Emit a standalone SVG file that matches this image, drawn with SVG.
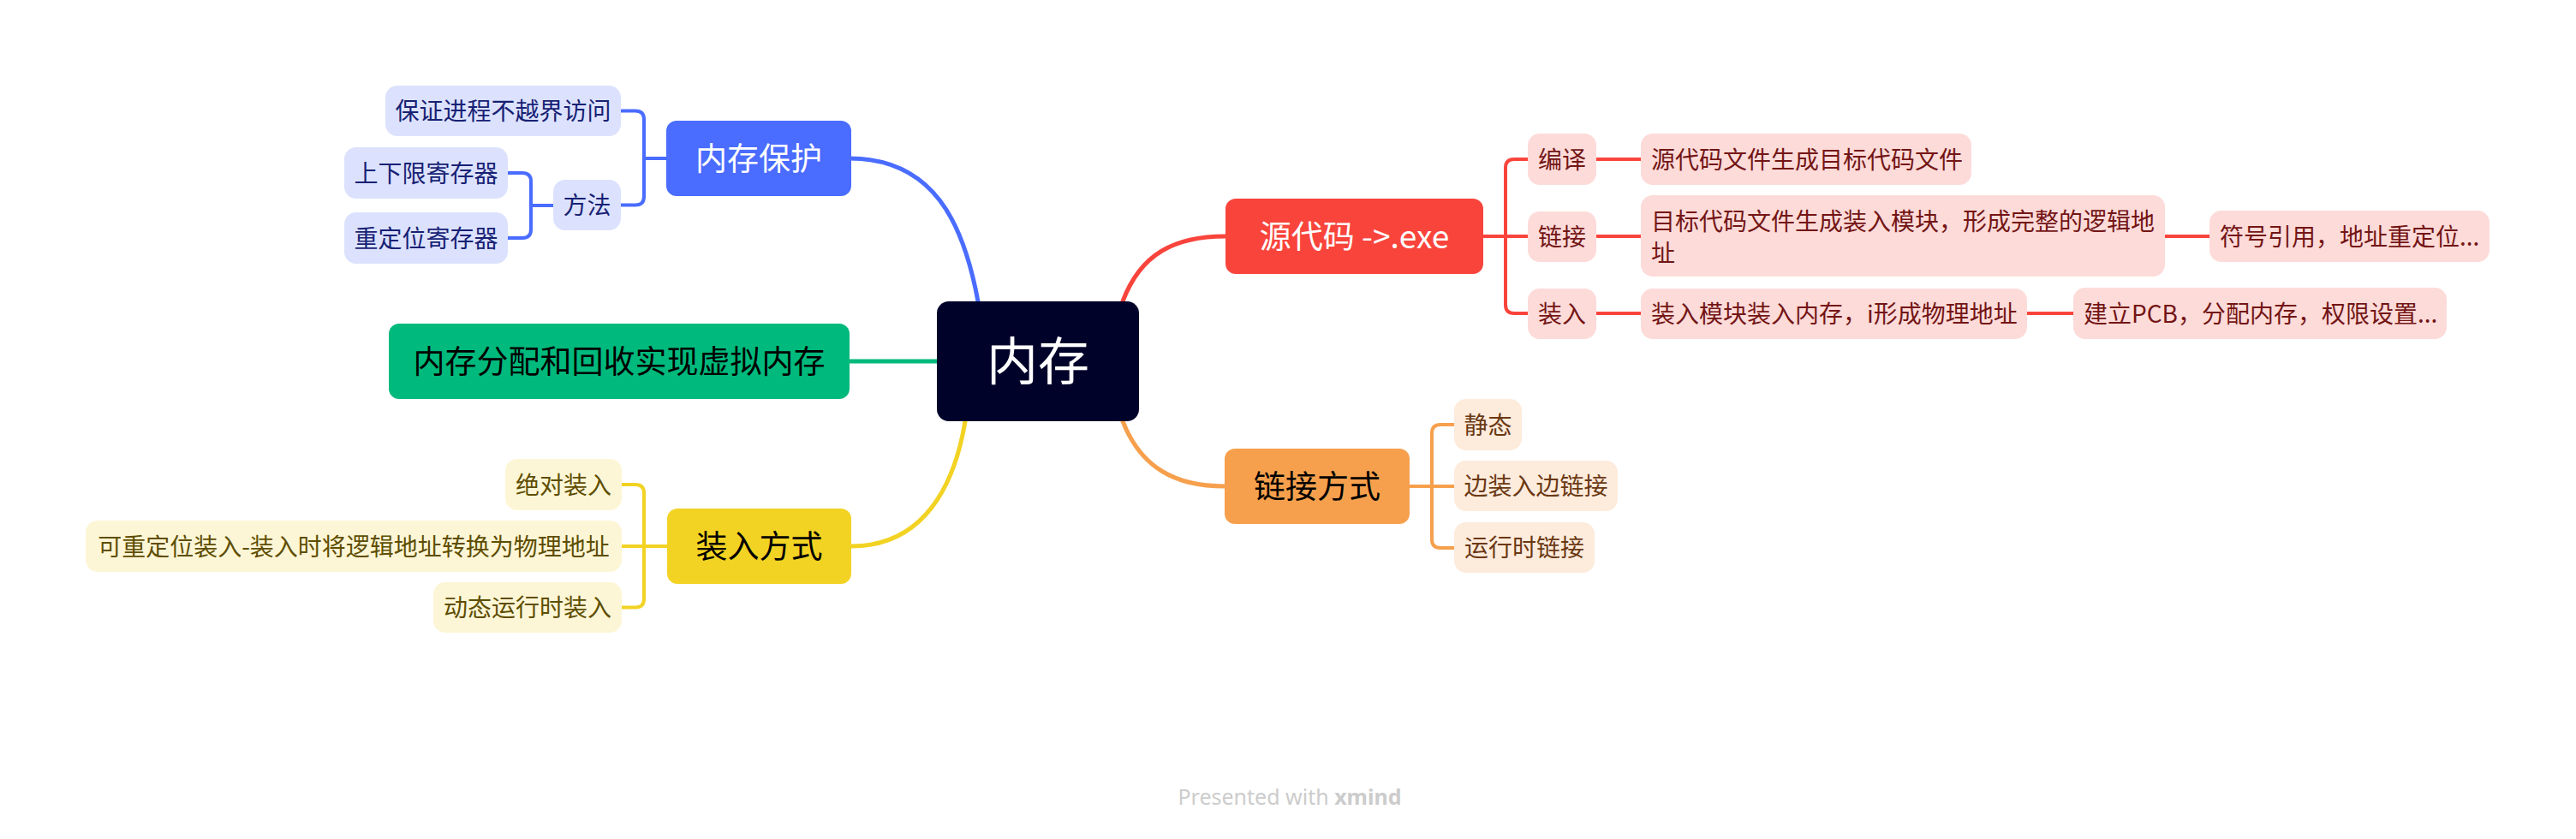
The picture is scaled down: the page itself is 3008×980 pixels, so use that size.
<svg xmlns="http://www.w3.org/2000/svg" width="3008" height="980" viewBox="0 0 3008 980">
<style>
text{font-family:"Noto Sans CJK SC","Noto Sans",sans-serif;}
.sub{font-size:28px;}
.main{font-size:37px;text-anchor:middle;}
.c{text-anchor:middle;}
.bl rect{fill:#dce2fd;} .bl text{fill:#172174;}
.ye rect{fill:#fdf6d6;} .ye text{fill:#5e4d00;}
.rd rect{fill:#fddbd9;} .rd text{fill:#731515;}
.or rect{fill:#fdebdc;} .or text{fill:#6a3812;}
.br{fill:none;stroke-width:4;stroke-linecap:round;}
.cv{fill:none;stroke-width:5;stroke-linecap:round;}
</style>
<rect width="3008" height="980" fill="#ffffff"/>
<g id="connectors">
  <path class="cv" stroke="#4a6cff" d="M992,185 C1090,185 1125,260 1142,352"/>
  <path class="cv" stroke="#00b97c" d="M992,422 H1094"/>
  <path class="cv" stroke="#f2d323" d="M994,638 C1080,638 1115,565 1127,492"/>
  <path class="cv" stroke="#f9443c" d="M1311,352 C1332,296 1372,276 1431,276"/>
  <path class="cv" stroke="#f6a04d" d="M1311,492 C1332,546 1372,568 1430,568"/>
  <path class="br" stroke="#4a6cff" d="M725,129.5 H742 Q752,129.5 752,139.5 V229.5 Q752,239.5 742,239.5 H725 M752,185 H778"/>
  <path class="br" stroke="#4a6cff" d="M593,202 H610 Q620,202 620,212 V268 Q620,278 610,278 H593 M620,240 H646"/>
  <path class="br" stroke="#f2d323" d="M726,566 H742 Q752,566 752,576 V699.5 Q752,709.5 742,709.5 H726 M726,638 H779"/>
  <path class="br" stroke="#f9443c" d="M1784,186 H1768 Q1758,186 1758,196 V356 Q1758,366 1768,366 H1784 M1732,276 H1784"/>
  <path class="br" stroke="#f9443c" d="M1864,186 H1916 M1864,276 H1916 M1864,366 H1916 M2528,276 H2580 M2367,366 H2421"/>
  <path class="br" stroke="#f6a04d" d="M1698,496 H1682 Q1672,496 1672,506 V630 Q1672,640 1682,640 H1698 M1646,568 H1698"/>
</g>
<g id="central">
  <rect x="1094" y="352" width="236" height="140" rx="14" fill="#00022a"/>
  <text x="1212" y="444" class="c" font-size="60" fill="#ffffff">内存</text>
</g>
<g id="n-protect">
  <rect x="778" y="141" width="216" height="88" rx="12" fill="#4a6cff"/>
  <text x="886" y="199" class="main" fill="#ffffff">内存保护</text>
</g>
<g id="n-protect-1" class="bl">
  <rect x="450" y="100" width="275" height="59" rx="14"/>
  <text x="587.5" y="140" class="sub c">保证进程不越界访问</text>
</g>
<g id="n-method" class="bl">
  <rect x="646" y="210" width="79" height="59" rx="14"/>
  <text x="685.5" y="250" class="sub c">方法</text>
</g>
<g id="n-method-1" class="bl">
  <rect x="402" y="172" width="191" height="60" rx="14"/>
  <text x="497.5" y="212.5" class="sub c">上下限寄存器</text>
</g>
<g id="n-method-2" class="bl">
  <rect x="402" y="248" width="191" height="60" rx="14"/>
  <text x="497.5" y="288.5" class="sub c">重定位寄存器</text>
</g>
<g id="n-alloc">
  <rect x="454" y="378" width="538" height="88" rx="12" fill="#00b97c"/>
  <text x="723" y="436" class="main" fill="#000000">内存分配和回收实现虚拟内存</text>
</g>
<g id="n-load">
  <rect x="779" y="594" width="215" height="88" rx="12" fill="#f2d323"/>
  <text x="886.5" y="652" class="main" fill="#000000">装入方式</text>
</g>
<g id="n-load-1" class="ye">
  <rect x="590" y="536" width="136" height="60" rx="14"/>
  <text x="658" y="576.5" class="sub c">绝对装入</text>
</g>
<g id="n-load-2" class="ye">
  <rect x="100" y="608" width="626" height="60" rx="14"/>
  <text x="413" y="648.5" class="sub c">可重定位装入-装入时将逻辑地址转换为物理地址</text>
</g>
<g id="n-load-3" class="ye">
  <rect x="506" y="680" width="220" height="59" rx="14"/>
  <text x="616" y="720" class="sub c">动态运行时装入</text>
</g>
<g id="n-src">
  <rect x="1431" y="232" width="301" height="88" rx="12" fill="#f9443c"/>
  <text x="1581.5" y="290" class="main" fill="#ffffff">源代码 -&gt;.exe</text>
</g>
<g id="n-compile" class="rd">
  <rect x="1784" y="156" width="80" height="60" rx="14"/>
  <text x="1824" y="196.5" class="sub c">编译</text>
</g>
<g id="n-link" class="rd">
  <rect x="1784" y="247" width="80" height="59" rx="14"/>
  <text x="1824" y="286.5" class="sub c">链接</text>
</g>
<g id="n-loadstep" class="rd">
  <rect x="1784" y="337" width="80" height="59" rx="14"/>
  <text x="1824" y="376.5" class="sub c">装入</text>
</g>
<g id="n-compile-1" class="rd">
  <rect x="1916" y="156" width="386" height="60" rx="14"/>
  <text x="1928" y="196.5" class="sub">源代码文件生成目标代码文件</text>
</g>
<g id="n-link-1" class="rd">
  <rect x="1916" y="228" width="612" height="95" rx="14"/>
  <text x="1928" y="268.5" class="sub">目标代码文件生成装入模块，形成完整的逻辑地</text>
  <text x="1928" y="305.5" class="sub">址</text>
</g>
<g id="n-link-2" class="rd">
  <rect x="2580" y="246" width="327" height="60" rx="14"/>
  <text x="2592" y="286.5" class="sub">符号引用，地址重定位...</text>
</g>
<g id="n-loadstep-1" class="rd">
  <rect x="1916" y="337" width="451" height="59" rx="14"/>
  <text x="1928" y="376.5" class="sub">装入模块装入内存，i形成物理地址</text>
</g>
<g id="n-loadstep-2" class="rd">
  <rect x="2421" y="336" width="436" height="60" rx="14"/>
  <text x="2433" y="376.5" class="sub">建立PCB，分配内存，权限设置...</text>
</g>
<g id="n-linkmode">
  <rect x="1430" y="524" width="216" height="88" rx="12" fill="#f6a04d"/>
  <text x="1538" y="582" class="main" fill="#000000">链接方式</text>
</g>
<g id="n-linkmode-1" class="or">
  <rect x="1698" y="466" width="79" height="60" rx="14"/>
  <text x="1737.5" y="506.5" class="sub c">静态</text>
</g>
<g id="n-linkmode-2" class="or">
  <rect x="1698" y="538" width="191" height="59" rx="14"/>
  <text x="1793.5" y="578" class="sub c">边装入边链接</text>
</g>
<g id="n-linkmode-3" class="or">
  <rect x="1698" y="610" width="164" height="59" rx="14"/>
  <text x="1780" y="650" class="sub c">运行时链接</text>
</g>
<text x="1506" y="940" text-anchor="middle" font-size="25" fill="#cccccc" style="font-family:'Noto Sans',sans-serif">Presented with <tspan font-weight="bold">xmind</tspan></text>
</svg>
